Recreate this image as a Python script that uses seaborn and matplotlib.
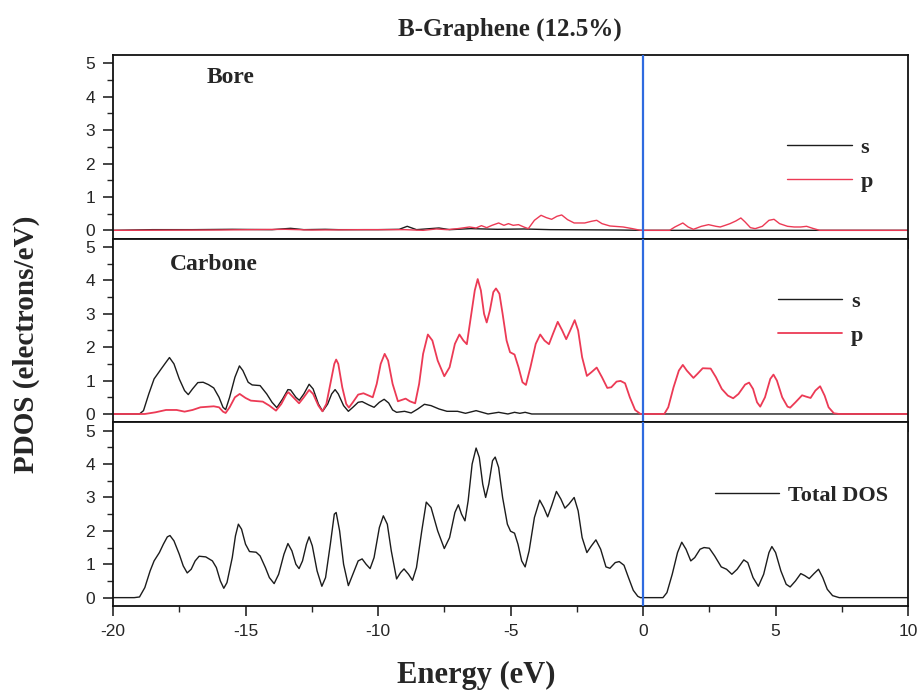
import numpy as np
import pandas as pd
import matplotlib.pyplot as plt
import seaborn as sns
from matplotlib.ticker import MultipleLocator

# ---- data (energy in eV, PDOS in electrons/eV) ----

# Bore panel
b_s_E = [-20, -18.5, -17, -15.5, -14, -13.3, -12.8, -12, -11.5, -10, -9.2, -8.9, -8.55, -7.7, -7.3,
         -6.5, -5.5, -4.5, -3.5, -1, 0, 10]
b_s_v = [0, 0.02, 0.02, 0.03, 0.02, 0.06, 0.02, 0.03, 0.02, 0.02, 0.03, 0.12, 0.02, 0.07, 0.02,
         0.05, 0.03, 0.04, 0.02, 0.01, 0, 0]

b_p_E = [-20, -16, -13.5, -12.5, -10.5, -9.0, -8.3, -7.8, -7.4, -7.0, -6.55, -6.3, -6.1, -5.9, -5.7,
         -5.45, -5.25, -5.08, -4.9, -4.7, -4.5, -4.33, -4.1, -3.85, -3.65, -3.45, -3.25, -3.07, -2.85,
         -2.6, -2.2, -1.95, -1.75, -1.55, -1.25, -0.75, -0.4, -0.1, 1.0, 1.2, 1.5, 1.7, 1.9, 2.2, 2.47,
         2.75, 2.91, 3.1, 3.28, 3.5, 3.69, 3.85, 4.05, 4.23, 4.5, 4.75, 4.94, 5.15, 5.45, 5.7, 5.95,
         6.17, 6.4, 6.66, 10]
b_p_v = [0, 0.01, 0.03, 0.01, 0.02, 0.02, 0.0, 0.04, 0.02, 0.05, 0.1, 0.07, 0.14, 0.08, 0.15,
         0.22, 0.15, 0.2, 0.15, 0.17, 0.1, 0.05, 0.3, 0.45, 0.38, 0.33, 0.42, 0.46, 0.32,
         0.22, 0.22, 0.27, 0.3, 0.2, 0.13, 0.1, 0.05, 0, 0, 0.1, 0.22, 0.1, 0.03, 0.12, 0.17,
         0.12, 0.1, 0.15, 0.2, 0.28, 0.37, 0.25, 0.08, 0.05, 0.12, 0.3, 0.33, 0.2, 0.12, 0.1, 0.1,
         0.12, 0.06, 0, 0]

# Carbone panel
c_s_E = [-20, -19.0, -18.85, -18.65, -18.45, -18.2, -18.0, -17.87, -17.7, -17.5, -17.3, -17.16, -17.0,
         -16.8, -16.6, -16.4, -16.2, -16.0, -15.85, -15.75, -15.6, -15.4, -15.23, -15.1, -14.9, -14.75,
         -14.45, -14.2, -14.0, -13.82, -13.6, -13.4, -13.3, -13.1, -12.97, -12.8, -12.6, -12.45, -12.25,
         -12.09, -11.9, -11.75, -11.62, -11.5, -11.3, -11.12, -10.95, -10.75, -10.6, -10.35, -10.15,
         -9.95, -9.77, -9.6, -9.45, -9.3, -9.0, -8.75, -8.5, -8.25, -8.0, -7.7, -7.4, -7.0, -6.7, -6.3,
         -5.85, -5.45, -5.1, -4.85, -4.65, -4.45, -4.2, 10]
c_s_v = [0, 0, 0.1, 0.6, 1.05, 1.33, 1.55, 1.69, 1.5, 1.05, 0.7, 0.58, 0.75,
         0.94, 0.95, 0.88, 0.78, 0.5, 0.2, 0.13, 0.5, 1.1, 1.44, 1.3, 0.95, 0.87,
         0.85, 0.6, 0.35, 0.19, 0.45, 0.73, 0.72, 0.5, 0.41, 0.6, 0.89, 0.75, 0.3,
         0.08, 0.3, 0.6, 0.73, 0.6, 0.25, 0.08, 0.2, 0.35, 0.37, 0.27, 0.2,
         0.35, 0.44, 0.33, 0.12, 0.05, 0.08, 0.03, 0.15, 0.29, 0.25, 0.15, 0.08, 0.08, 0.02, 0.1,
         0.0, 0.05, 0.0, 0.05, 0.02, 0.05, 0.0, 0]

c_p_E = [-20, -18.8, -18.4, -18.0, -17.6, -17.3, -17.0, -16.7, -16.2, -16.0, -15.85, -15.75, -15.6, -15.4,
         -15.22, -15.0, -14.8, -14.35, -14.1, -13.85, -13.65, -13.45, -13.38, -13.2, -12.98, -12.8, -12.6,
         -12.45, -12.25, -12.1, -11.95, -11.8, -11.65, -11.58, -11.5, -11.35, -11.2, -11.1, -10.95, -10.75,
         -10.55, -10.35, -10.2, -10.05, -9.9, -9.75, -9.62, -9.45, -9.25, -9.1, -8.96, -8.8, -8.6, -8.45,
         -8.3, -8.12, -7.95, -7.75, -7.5, -7.3, -7.1, -6.93, -6.78, -6.65, -6.5, -6.35, -6.24, -6.12, -6.0,
         -5.9, -5.78, -5.65, -5.55, -5.42, -5.3, -5.15, -5.02, -4.85, -4.7, -4.55, -4.42, -4.25, -4.05,
         -3.88, -3.72, -3.55, -3.4, -3.22, -3.05, -2.9, -2.75, -2.58, -2.45, -2.3, -2.12, -1.95, -1.75,
         -1.55, -1.35, -1.2, -1.0, -0.85, -0.68, -0.5, -0.3, -0.1, 0.8, 0.95, 1.15, 1.35, 1.5, 1.65, 1.9,
         2.05, 2.25, 2.55, 2.75, 2.97, 3.2, 3.4, 3.6, 3.85, 4.0, 4.15, 4.3, 4.42, 4.6, 4.8, 4.92, 5.05,
         5.25, 5.45, 5.55, 5.75, 6.0, 6.15, 6.32, 6.5, 6.68, 6.85, 7.0, 7.2, 7.4, 10]
c_p_v = [0, 0, 0.05, 0.12, 0.12, 0.07, 0.12, 0.2, 0.23, 0.2, 0.07, 0.03, 0.2, 0.5,
         0.6, 0.48, 0.4, 0.37, 0.25, 0.1, 0.3, 0.6, 0.65, 0.5, 0.32, 0.5, 0.72,
         0.6, 0.25, 0.08, 0.3, 0.9, 1.5, 1.63, 1.5, 0.8, 0.3, 0.19, 0.35, 0.58,
         0.62, 0.55, 0.5, 0.9, 1.5, 1.8, 1.6, 0.9, 0.38, 0.42, 0.46, 0.38, 0.32, 0.9,
         1.8, 2.38, 2.2, 1.6, 1.13, 1.4, 2.1, 2.38, 2.2, 2.09, 2.9, 3.7, 4.04, 3.7, 3.0,
         2.74, 3.1, 3.65, 3.76, 3.6, 3.0, 2.2, 1.85, 1.78, 1.4, 0.95, 0.87, 1.4, 2.1,
         2.38, 2.2, 2.09, 2.4, 2.76, 2.5, 2.24, 2.5, 2.81, 2.5, 1.7, 1.14, 1.25, 1.39,
         1.1, 0.78, 0.8, 0.97, 0.99, 0.92, 0.5, 0.12, 0, 0, 0.2, 0.8, 1.3, 1.47, 1.3, 1.08,
         1.2, 1.37, 1.36, 1.1, 0.75, 0.55, 0.47, 0.6, 0.88, 0.94, 0.75, 0.35, 0.22, 0.5, 1.05, 1.18, 1.0,
         0.5, 0.22, 0.19, 0.35, 0.56, 0.52, 0.48, 0.7, 0.83, 0.55, 0.2, 0.02, 0, 0]

# Total DOS panel
tot_E = [-20.0, -19.2, -19.0, -18.8, -18.6, -18.45, -18.25, -18.1, -17.95, -17.85, -17.7, -17.5, -17.35,
         -17.2, -17.05, -16.9, -16.75, -16.5, -16.25, -16.1, -15.95, -15.82, -15.7, -15.5, -15.38, -15.27,
         -15.15, -15.0, -14.85, -14.6, -14.45, -14.25, -14.1, -13.92, -13.75, -13.55, -13.4, -13.25, -13.1,
         -12.98, -12.85, -12.7, -12.6, -12.48, -12.3, -12.12, -11.98, -11.8, -11.65, -11.58, -11.45, -11.3,
         -11.12, -10.95, -10.75, -10.6, -10.45, -10.3, -10.15, -9.95, -9.8, -9.65, -9.5, -9.3, -9.15, -9.02,
         -8.85, -8.7, -8.55, -8.35, -8.18, -8.0, -7.75, -7.5, -7.3, -7.1, -6.97, -6.85, -6.72, -6.6, -6.45,
         -6.3, -6.18, -6.05, -5.94, -5.82, -5.68, -5.58, -5.45, -5.3, -5.12, -5.0, -4.85, -4.72, -4.58,
         -4.45, -4.3, -4.1, -3.9, -3.75, -3.6, -3.45, -3.27, -3.1, -2.95, -2.8, -2.6, -2.45, -2.3, -2.12,
         -1.95, -1.78, -1.6, -1.4, -1.25, -1.05, -0.9, -0.72, -0.55, -0.37, -0.2, -0.1, 0.75, 0.9, 1.1,
         1.3, 1.46, 1.62, 1.8, 1.95, 2.15, 2.3, 2.5, 2.7, 2.95, 3.15, 3.35, 3.55, 3.8, 3.95, 4.15, 4.35,
         4.55, 4.75, 4.86, 5.0, 5.2, 5.4, 5.55, 5.75, 5.95, 6.1, 6.27, 6.45, 6.62, 6.78, 6.95, 7.15, 7.4, 10.0]
tot_v = [0, 0, 0.02, 0.3, 0.8, 1.1, 1.35, 1.6, 1.82, 1.86, 1.7, 1.3, 0.95,
         0.74, 0.85, 1.1, 1.24, 1.22, 1.1, 0.9, 0.5, 0.28, 0.45, 1.2, 1.85, 2.2,
         2.05, 1.6, 1.38, 1.36, 1.25, 0.9, 0.6, 0.42, 0.7, 1.3, 1.62, 1.4, 1.0,
         0.87, 1.1, 1.6, 1.82, 1.55, 0.8, 0.34, 0.6, 1.6, 2.5, 2.55, 2.0, 1.0,
         0.36, 0.7, 1.1, 1.16, 1.0, 0.87, 1.2, 2.1, 2.45, 2.2, 1.4, 0.56, 0.75, 0.86,
         0.7, 0.52, 0.9, 2.0, 2.86, 2.7, 2.0, 1.47, 1.8, 2.55, 2.78, 2.5, 2.3, 2.9, 4.0,
         4.48, 4.2, 3.4, 3.0, 3.4, 4.1, 4.21, 3.9, 3.0, 2.2, 1.99, 1.93, 1.6, 1.1,
         0.92, 1.4, 2.4, 2.92, 2.7, 2.42, 2.75, 3.18, 2.95, 2.68, 2.8, 3.0, 2.6, 1.8, 1.35,
         1.55, 1.73, 1.45, 0.92, 0.88, 1.05, 1.08, 0.97, 0.6, 0.22, 0.04, 0, 0, 0.15, 0.7,
         1.35, 1.66, 1.45, 1.1, 1.2, 1.45, 1.5, 1.48, 1.25, 0.92, 0.85, 0.7, 0.85, 1.13, 1.05, 0.6, 0.34,
         0.7, 1.35, 1.53, 1.35, 0.8, 0.4, 0.32, 0.5, 0.72, 0.66, 0.57, 0.72, 0.85, 0.6, 0.25, 0.06, 0, 0]

title = 'B-Graphene (12.5%)'
panel_names = ['Bore', 'Carbone', '']

black = '#1c1c1c'
red = '#ec3a55'
blue = '#2f6be0'

sns.set_style('ticks')
plt.rcParams['font.family'] = ['Liberation Sans', 'DejaVu Sans']
plt.rcParams['axes.unicode_minus'] = False
serif_bold = {'family': 'Liberation Serif', 'weight': 'bold'}

fig, axes = plt.subplots(3, 1, figsize=(9.21, 6.92), dpi=100, sharex=True)
fig.subplots_adjust(left=0.1227, right=0.986, top=0.9205, bottom=0.1243, hspace=0)

sns.lineplot(x=b_s_E, y=b_s_v, ax=axes[0], color=black, lw=1.0, label='s')
sns.lineplot(x=b_p_E, y=b_p_v, ax=axes[0], color=red, lw=1.0, label='p')
sns.lineplot(x=c_s_E, y=c_s_v, ax=axes[1], color=black, lw=1.0, label='s')
sns.lineplot(x=c_p_E, y=c_p_v, ax=axes[1], color=red, lw=1.3, label='p')
sns.lineplot(x=tot_E, y=tot_v, ax=axes[2], color=black, lw=1.0, label='Total DOS')

leg_pos = [(0.848, 0.405), (0.836, 0.563), (0.757, 0.603)]
for ax, name, pos in zip(axes, panel_names, leg_pos):
    ax.set_xlim(-20, 10)
    ax.set_ylim(-0.25, 5.25)
    ax.set_yticks([0, 1, 2, 3, 4, 5])
    ax.yaxis.set_minor_locator(MultipleLocator(0.5))
    ax.xaxis.set_major_locator(MultipleLocator(5))
    ax.xaxis.set_minor_locator(MultipleLocator(2.5))
    ax.tick_params(which='major', direction='out', length=7, width=1.2, labelsize=12.5, pad=6)
    ax.tick_params(which='minor', direction='out', length=4, width=1.0)
    ax.axvline(0, color=blue, lw=1.6, zorder=5)
    for sp in ax.spines.values():
        sp.set_linewidth(1.3)
        sp.set_color('#111111')
    ax.set_xlabel('')
    ax.set_ylabel('')
    ax.legend(loc='center left', bbox_to_anchor=pos, frameon=False, borderpad=0,
              borderaxespad=0, handlelength=2.9, handletextpad=0.4, labelspacing=0.6,
              prop={'family': 'Liberation Serif', 'weight': 'bold', 'size': 16})

axes[0].text(0.118, 0.88, panel_names[0], transform=axes[0].transAxes, fontsize=17,
             va='center', ha='left', **serif_bold)
axes[1].text(0.072, 0.857, panel_names[1], transform=axes[1].transAxes, fontsize=17,
             va='center', ha='left', **serif_bold)

fig.text(0.554, 0.958, title, ha='center', va='center', fontsize=18, **serif_bold)
fig.text(0.029, 0.503, 'PDOS (electrons/eV)', rotation=90, ha='center', va='center',
         fontsize=21, **serif_bold)
fig.text(0.517, 0.024, 'Energy (eV)', ha='center', va='center', fontsize=22, **serif_bold)

fig.savefig('out.png', dpi=100)
